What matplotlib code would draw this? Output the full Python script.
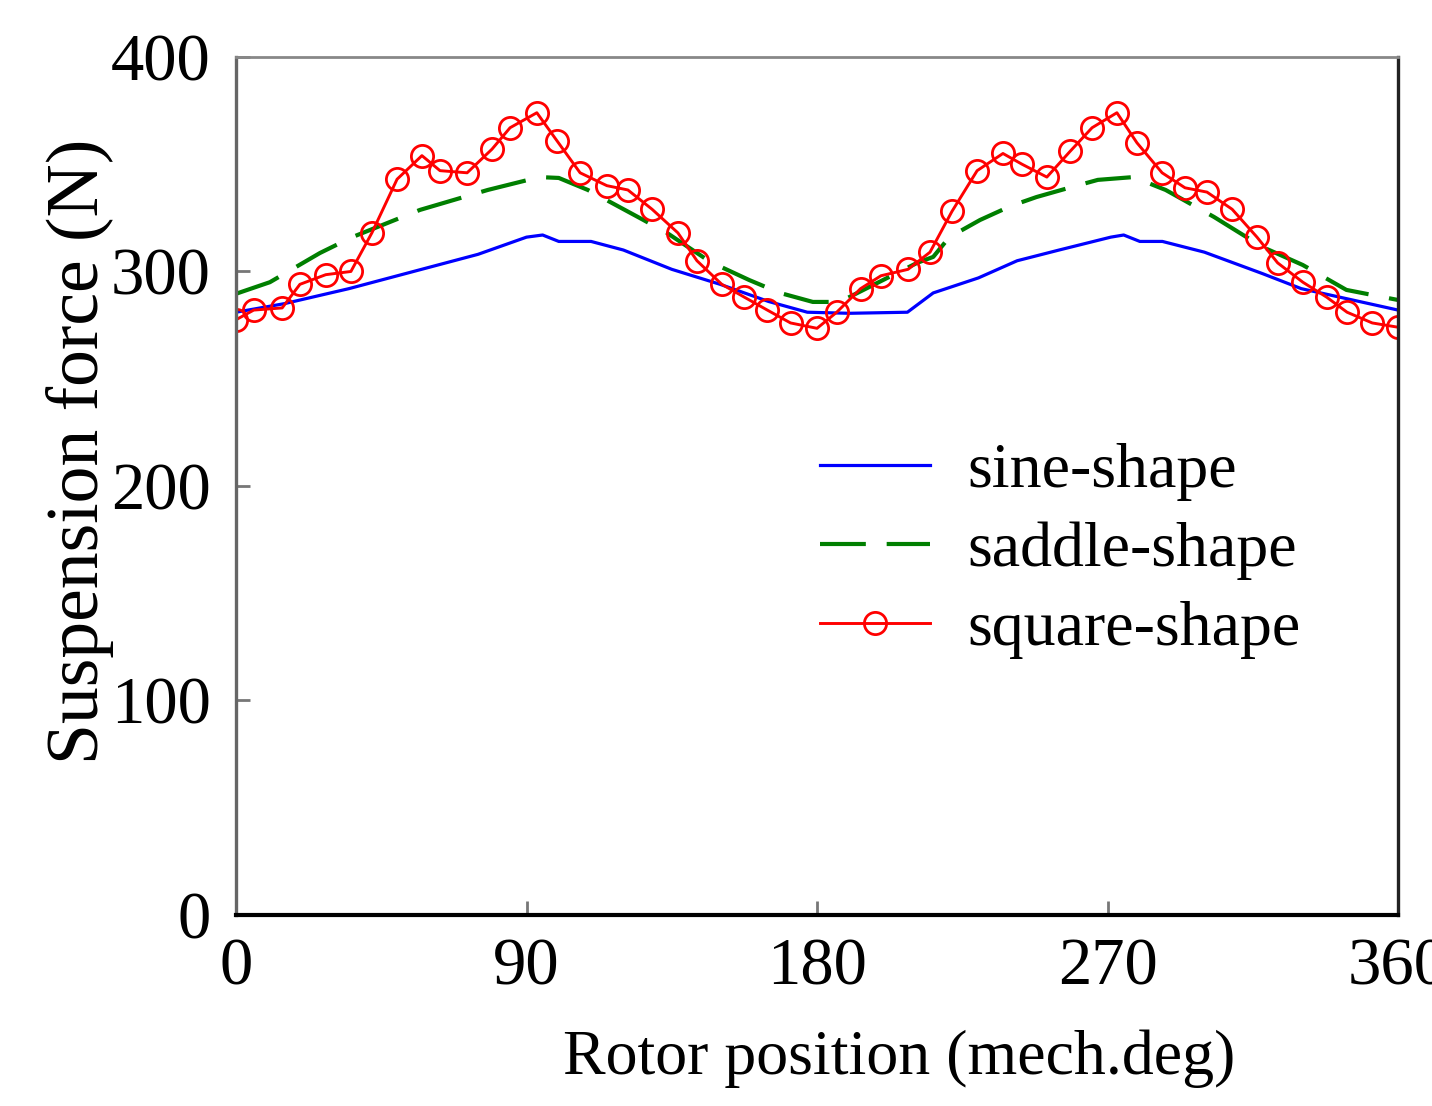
import matplotlib.pyplot as plt

plt.rcParams['font.family'] = ['Liberation Serif', 'DejaVu Serif']

# sine-shape current (blue solid line)
sine_x = [0, 15, 35, 45, 60, 75, 90, 95, 100, 110, 120, 135, 150, 165, 177, 190, 208, 216, 230, 242, 255, 271, 275, 280, 287, 300, 318, 330, 345, 360]
sine_y = [281, 285, 292, 296, 302, 308, 316, 317, 314, 314, 310, 301, 294, 286, 281, 280.5, 281, 290, 297, 305, 310, 316, 317, 314, 314, 309, 299, 292, 287, 282]

# saddle-shape current (green dashed line)
saddle_x = [0, 10.5, 26, 36, 57, 78, 94, 100, 109, 125, 133.5, 147, 159, 168.5, 178.7, 187, 198.6, 211, 216, 221, 230.5, 240, 248, 259, 267, 278, 288, 303, 318, 330.5, 344, 360]
saddle_y = [289.6, 295, 308.6, 316, 328.7, 338, 344, 343.6, 338, 325, 318, 304.4, 296, 290, 285.8, 285.8, 294.6, 304, 306.8, 316, 324, 330.5, 334.7, 339.4, 342.7, 344, 338, 325.4, 311.4, 303, 291.4, 286.7]

# square-shape current (red line with circles)
square_x = [0, 5.5, 14.3, 19.8, 27.8, 35.6, 42.1, 49.9, 57.6, 63.2, 71.6, 79.3, 84.9, 93.2, 99.4, 106.6, 114.9, 121.4, 128.9, 136.9, 142.8, 150.5, 157.5, 164.6, 171.8, 180, 186.1, 193.5, 199.8, 208.2, 215, 221.8, 229.6, 237.6, 243.5, 251.2, 258.4, 265.2, 272.9, 279.1, 286.9, 294, 300.8, 308.6, 316.3, 322.7, 330.5, 337.9, 344.2, 352, 360]
square_y = [277.5, 282, 283, 294, 298.5, 300, 318, 343, 354, 347, 346, 357, 367, 374, 361, 346, 340, 338, 329, 318, 305, 294, 288, 282, 276, 273.5, 281, 292, 298, 301, 309, 328, 347, 355, 350, 344, 356, 367, 374, 360, 346, 339, 337, 329, 316, 304, 295, 288, 281, 276, 274]

x_ticks = [0, 90, 180, 270, 360]
y_ticks = [0, 100, 200, 300, 400]

fig = plt.figure(figsize=(14.32, 11.06), dpi=100)
ax = fig.add_axes([0.1648, 0.1727, 0.8115, 0.7758])

ax.plot(sine_x, sine_y, color='#0000ff', lw=2.3, label='sine-shape')
ax.plot(saddle_x, saddle_y, color='#007f00', lw=3.0, dashes=(11, 5), label='saddle-shape')
ax.plot(square_x, square_y, color='#ff0000', lw=2.1, marker='o', ms=16,
        mfc='none', mec='#ff0000', mew=2.0, label='square-shape')

ax.set_xlim(0, 360)
ax.set_ylim(0, 400)
ax.set_xticks(x_ticks)
ax.set_yticks(y_ticks)
ax.tick_params(axis='both', direction='in', labelsize=48, length=10, width=2, color='#777777')
ax.tick_params(axis='x', pad=16)
ax.tick_params(axis='y', pad=18)

ax.spines['left'].set_color('#666666')
ax.spines['left'].set_linewidth(2.4)
ax.spines['top'].set_color('#888888')
ax.spines['top'].set_linewidth(2.0)
ax.spines['bottom'].set_color('black')
ax.spines['bottom'].set_linewidth(3.0)
ax.spines['right'].set_color('#222222')
ax.spines['right'].set_linewidth(2.4)

ax.set_xlabel('Rotor position (mech.deg)', fontsize=46, va='center', ha='center')
ax.xaxis.set_label_coords(0.571, -0.168)
ax.set_ylabel('Suspension force (N)', fontsize=53, va='center', ha='center')
ax.yaxis.set_label_coords(-0.134, 0.54)

ax.legend(loc='upper left', bbox_to_anchor=(0.5026, 0.551), frameon=False, fontsize=46,
          handlelength=1.72, handletextpad=0.58, labelspacing=0.32, borderpad=0,
          borderaxespad=0)

fig.savefig('out.png', dpi=100)
